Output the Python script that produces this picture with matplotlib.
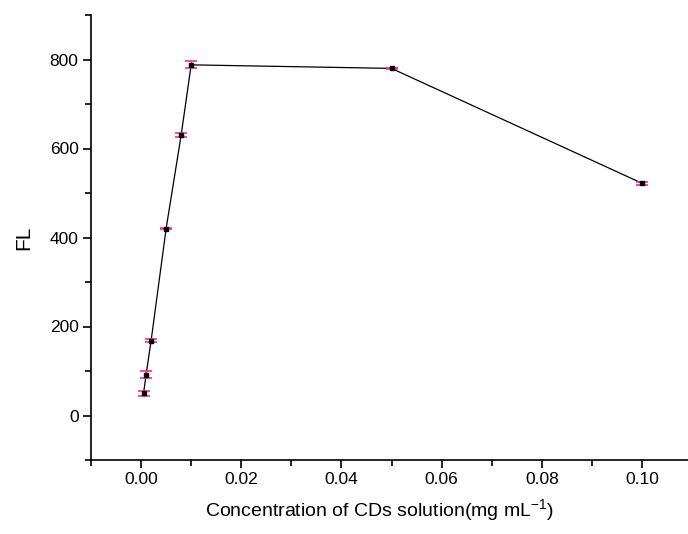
import matplotlib
matplotlib.use("Agg")
import matplotlib.pyplot as plt
from matplotlib.ticker import MultipleLocator

plt.rcParams['font.family'] = ['Liberation Sans', 'DejaVu Sans']
plt.rcParams['mathtext.fontset'] = 'custom'
plt.rcParams['mathtext.rm'] = 'Liberation Sans'

# concentration (mg/mL) vs fluorescence
conc = [0.0005, 0.001, 0.002, 0.005, 0.008, 0.01, 0.05, 0.1]
fl = [50, 92, 168, 420, 630, 788, 780, 522]
err = [6, 8, 3, 2, 4, 8, 2, 3]

fig = plt.figure(figsize=(6.88, 5.34), dpi=100)
ax = fig.add_axes([91 / 688, 74 / 534, 601 / 688, 445 / 534])

ax.plot(conc, fl, color='black', lw=0.9, zorder=2)
ax.errorbar(conc, fl, yerr=err, fmt='none', ecolor='#ff2a90', elinewidth=1.0,
            capsize=4.5, capthick=1.2, zorder=3)
ax.plot(conc, fl, 's', color='black', ms=3, zorder=4)

ax.set_xlim(-0.01, 0.11)
ax.set_ylim(-100, 900)
ax.xaxis.set_minor_locator(MultipleLocator(0.01))
ax.yaxis.set_minor_locator(MultipleLocator(100))
ax.set_xticks([0.0, 0.02, 0.04, 0.06, 0.08, 0.10])
ax.set_xticklabels(['0.00', '0.02', '0.04', '0.06', '0.08', '0.10'])
ax.set_yticks([0, 200, 400, 600, 800])

for s in ['top', 'right']:
    ax.spines[s].set_visible(False)
for s in ['left', 'bottom']:
    ax.spines[s].set_linewidth(1.2)

ax.tick_params(which='major', direction='out', length=6, width=1.2, labelsize=12.5, pad=3)
ax.tick_params(which='minor', direction='out', length=4, width=1.2)

ax.set_xlabel('Concentration of CDs solution(mg mL$^{\\mathregular{-1}}$)', fontsize=14, labelpad=7)
ax.xaxis.label.set_x(0.48)
ax.set_ylabel('FL', fontsize=15, labelpad=12)

fig.savefig('out.png', dpi=100)
